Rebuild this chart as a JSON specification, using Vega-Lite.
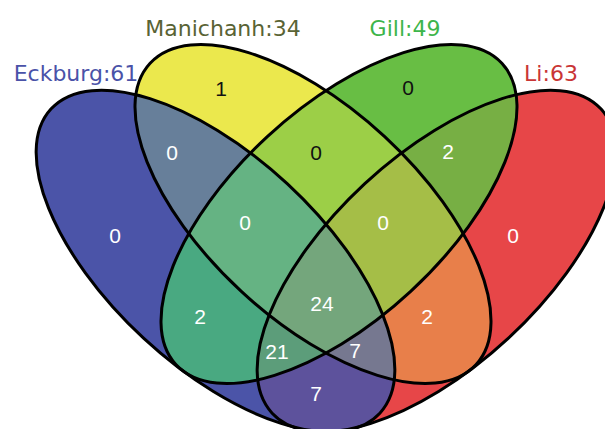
{
  "$schema": "https://vega.github.io/schema/vega-lite/v6.json",
  "width": 605,
  "height": 429,
  "padding": 0,
  "autosize": "none",
  "background": "white",
  "config": {"view": {"stroke": null}},
  "datasets": {
    "sets": [
      {"set": "Manichanh", "cx": 313, "cy": 214},
      {"set": "Li", "cx": 436.5, "cy": 261},
      {"set": "Eckburg", "cx": 215.5, "cy": 261},
      {"set": "Gill", "cx": 339, "cy": 214}
    ],
    "titles": [
      {"set": "Eckburg", "label": "Eckburg:61", "cx": 76, "cy": 81},
      {"set": "Manichanh", "label": "Manichanh:34", "cx": 223, "cy": 36},
      {"set": "Gill", "label": "Gill:49", "cx": 405, "cy": 36},
      {"set": "Li", "label": "Li:63", "cx": 551, "cy": 81}
    ],
    "counts": [
      {"region": "Eckburg only", "n": "0", "cx": 115, "cy": 237},
      {"region": "Manichanh only", "n": "1", "cx": 221, "cy": 90},
      {"region": "Gill only", "n": "0", "cx": 408, "cy": 89},
      {"region": "Li only", "n": "0", "cx": 513, "cy": 237},
      {"region": "Eckburg&Manichanh", "n": "0", "cx": 172, "cy": 154},
      {"region": "Manichanh&Gill", "n": "0", "cx": 316, "cy": 154},
      {"region": "Gill&Li", "n": "2", "cx": 448, "cy": 153},
      {"region": "Eckburg&Manichanh&Gill", "n": "0", "cx": 245, "cy": 224},
      {"region": "Manichanh&Gill&Li", "n": "0", "cx": 383, "cy": 224},
      {"region": "Eckburg&Gill", "n": "2", "cx": 200, "cy": 318},
      {"region": "Manichanh&Li", "n": "2", "cx": 427, "cy": 318},
      {"region": "All", "n": "24", "cx": 322, "cy": 305},
      {"region": "Eckburg&Gill&Li", "n": "21", "cx": 277, "cy": 353},
      {"region": "Eckburg&Manichanh&Li", "n": "7", "cx": 355, "cy": 352},
      {"region": "Eckburg&Li", "n": "7", "cx": 316, "cy": 395}
    ]
  },
  "encoding": {
    "x": {"field": "cx", "type": "quantitative", "scale": {"domain": [0, 605], "nice": false, "zero": false}, "axis": null},
    "y": {"field": "cy", "type": "quantitative", "scale": {"domain": [0, 429], "nice": false, "zero": false, "reverse": true}, "axis": null}
  },
  "layer": [
    {
      "data": {"name": "sets"},
      "mark": {"type": "point", "filled": true, "opacity": 1, "size": 4, "strokeWidth": 0},
      "encoding": {
        "color": {"field": "set", "type": "nominal", "legend": null, "scale": {"domain": ["Eckburg", "Manichanh", "Gill", "Li"], "range": ["#6c248a", "#ece84e", "#68be44", "#e84648"]}},
        "shape": {"field": "set", "type": "nominal", "legend": null, "scale": {"domain": ["Eckburg", "Manichanh", "Gill", "Li"], "range": [
          "M 164.36 152.19 A 224 105.5 42.8 0 1 -71.68 77.41 A 224 105.5 42.8 0 1 -164.36 -152.19 A 224 105.5 42.8 0 1 71.68 -77.41 A 224 105.5 42.8 0 1 164.36 152.19 Z",
          "M 162.89 150.84 A 222 105.5 42.8 0 1 -71.68 77.41 A 222 105.5 42.8 0 1 -162.89 -150.84 A 222 105.5 42.8 0 1 71.68 -77.41 A 222 105.5 42.8 0 1 162.89 150.84 Z",
          "M -162.89 150.84 A 222 105.5 137.2 0 1 -71.68 -77.41 A 222 105.5 137.2 0 1 162.89 -150.84 A 222 105.5 137.2 0 1 71.68 77.41 A 222 105.5 137.2 0 1 -162.89 150.84 Z",
          "M -164.36 152.19 A 224 105.5 137.2 0 1 -71.68 -77.41 A 224 105.5 137.2 0 1 164.36 -152.19 A 224 105.5 137.2 0 1 71.68 77.41 A 224 105.5 137.2 0 1 -164.36 152.19 Z"
        ]}}
      }
    },
    {
      "data": {"name": "sets"},
      "transform": [{"filter": "datum.set === 'Manichanh'"}],
      "mark": {"type": "point", "filled": true, "opacity": 0.4, "size": 4, "strokeWidth": 0, "color": "#ece84e"},
      "encoding": {
        "shape": {"field": "set", "type": "nominal", "legend": null}
      }
    },
    {
      "data": {"name": "sets"},
      "transform": [{"filter": "datum.set === 'Eckburg'"}],
      "mark": {"type": "point", "filled": true, "opacity": 0.45, "size": 4, "strokeWidth": 0, "color": "#2391cd"},
      "encoding": {
        "shape": {"field": "set", "type": "nominal", "legend": null}
      }
    },
    {
      "data": {"name": "sets"},
      "transform": [{"filter": "datum.set === 'Li'"}],
      "mark": {"type": "point", "filled": true, "opacity": 0.12, "size": 4, "strokeWidth": 0, "color": "#e84648"},
      "encoding": {
        "shape": {"field": "set", "type": "nominal", "legend": null}
      }
    },
    {
      "data": {"name": "sets"},
      "mark": {"type": "point", "filled": false, "opacity": 1, "size": 4, "stroke": "black", "strokeWidth": 3},
      "encoding": {
        "shape": {"field": "set", "type": "nominal", "legend": null}
      }
    },
    {
      "data": {"name": "counts"},
      "mark": {"type": "text", "font": "Liberation Sans", "fontSize": 21, "align": "center", "baseline": "middle"},
      "encoding": {
        "text": {"field": "n", "type": "nominal"},
        "color": {"condition": {"test": "datum.region === 'Manichanh only' || datum.region === 'Gill only' || datum.region === 'Manichanh&Gill'", "value": "#111111"}, "value": "#ffffff"}
      }
    },
    {
      "data": {"name": "titles"},
      "mark": {"type": "text", "font": "DejaVu Sans", "fontSize": 22, "align": "center", "baseline": "alphabetic"},
      "encoding": {
        "text": {"field": "label", "type": "nominal"},
        "color": {"field": "set", "type": "nominal", "legend": null, "scale": {"domain": ["Eckburg", "Manichanh", "Gill", "Li"], "range": ["#4a52a8", "#596334", "#3db54a", "#c93535"]}}
      }
    }
  ],
  "resolve": {"scale": {"color": "independent"}}
}
